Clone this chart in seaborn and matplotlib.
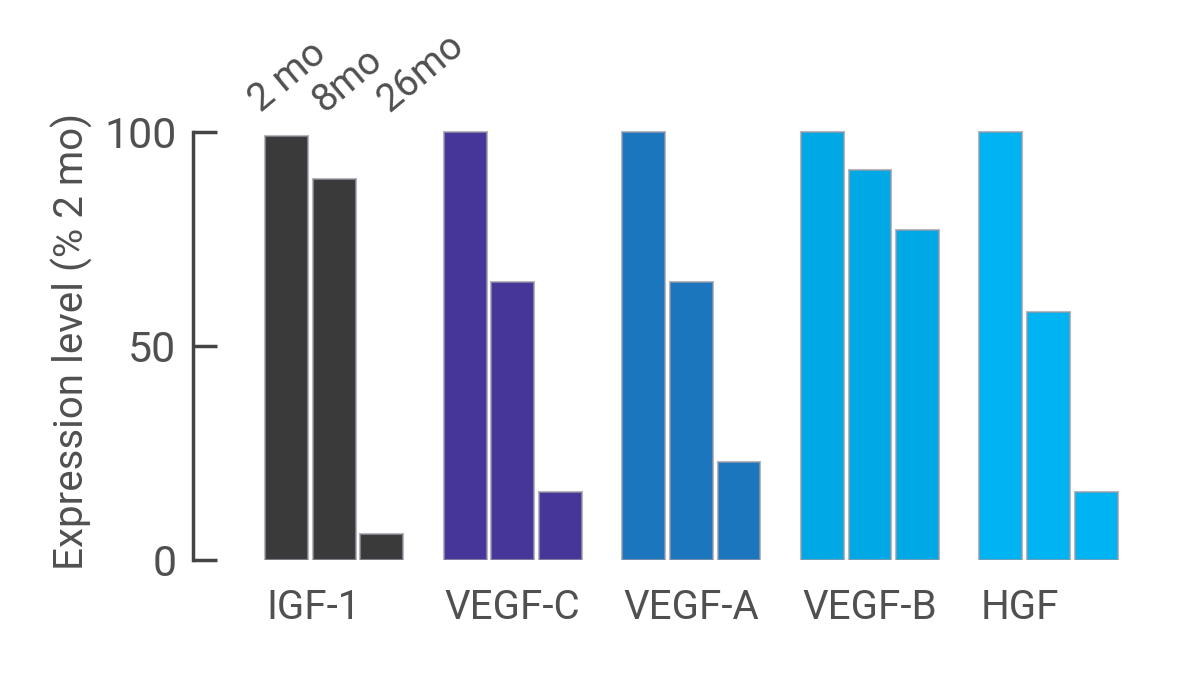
"""Growth factor expression by age, grouped bars
"""
import matplotlib
matplotlib.use("Agg")
import matplotlib.pyplot as plt
import matplotlib.transforms as mtransforms
import pandas as pd
import seaborn as sns

# Data
genes = ["IGF-1", "VEGF-C", "VEGF-A", "VEGF-B", "HGF"]
ages = ["2 mo", "8mo", "26mo"]
level_2mo = [99, 100, 100, 100, 100]
level_8mo = [89, 65, 65, 91, 58]
level_26mo = [6, 16, 23, 77, 16]

gene_colors = ["#3b3a3b", "#463699", "#1b76be", "#00a9e5", "#00b3f2"]
TEXT = "#505050"

df = pd.DataFrame({
    "gene": genes * 3,
    "age": [a for a in ages for _ in genes],
    "level": level_2mo + level_8mo + level_26mo,
})

sns.set_style("white")
plt.rcParams["font.family"] = ["Roboto", "DejaVu Sans"]

fig = plt.figure(figsize=(12, 6.94), dpi=100)
ax = fig.add_axes([193 / 1200, (694 - 560) / 694, (1150 - 193) / 1200, (560 - 123.4) / 694])

sns.barplot(data=df, x="gene", y="level", hue="age", order=genes, hue_order=ages,
            errorbar=None, width=0.8, gap=0.1, legend=False, ax=ax,
            edgecolor=(0.6, 0.6, 0.65, 0.7), linewidth=1.5)

# colour each bar by its gene group
for cont in ax.containers:
    for j, bar in enumerate(cont):
        bar.set_facecolor(gene_colors[j])

ax.set_xlim(-0.79, 4.568)
ax.set_ylim(0, 102)
ax.set_yticks([0, 50, 100])
ax.set_xlabel("")
ax.set_ylabel("Expression level (% 2 mo)", fontsize=29, color=TEXT, labelpad=8)

for side in ["top", "right", "bottom"]:
    ax.spines[side].set_visible(False)
ax.spines["left"].set_bounds(0, 100)
ax.spines["left"].set_linewidth(2.5)
ax.spines["left"].set_color("#444444")

ax.tick_params(axis="y", left=True, direction="in", length=17, width=2.5, color="#444444",
               labelsize=31, labelcolor=TEXT, pad=12)
ax.tick_params(axis="x", bottom=False, length=0, labelsize=29, labelcolor=TEXT, pad=20)

# gene labels sit at the left edge of each group
shift = mtransforms.ScaledTranslation(-0.68, 0, fig.dpi_scale_trans)
for lab in ax.get_xticklabels():
    lab.set_horizontalalignment("left")
    lab.set_transform(lab.get_transform() + shift)

# age labels above the first group
for k, age in enumerate(ages):
    bar = ax.containers[k][0]
    ax.text(bar.get_x() - 0.02 + 0.09 * k, 104.5, age, rotation=40, ha="left", va="baseline",
            rotation_mode="anchor", fontsize=28, color=TEXT, clip_on=False)

fig.savefig("out.png", dpi=100)
